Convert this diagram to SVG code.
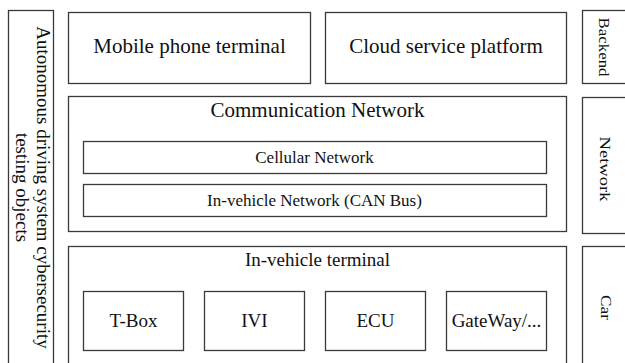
<svg xmlns="http://www.w3.org/2000/svg" width="625" height="363" viewBox="0 0 625 363">
<style>
rect{fill:#fff;stroke:#3a3a3a;stroke-width:1.3}
text{fill:#111;text-anchor:middle}
.l{font-size:21px}
.m{font-size:19px}
.s{font-size:17px}
.v{font-size:19px}
.r{font-size:15px}
</style>
<rect x="0" y="0" width="625" height="363" style="stroke:none"/>
<g font-family="'Liberation Serif', 'DejaVu Serif', serif">
<g id="side-left">
<rect x="8.5" y="10.5" width="45" height="360"/>
<text class="v" transform="translate(37,187.5) rotate(90)">Autonomous driving system cybersecurity</text>
<text class="v" transform="translate(16,187.5) rotate(90)">testing objects</text>
</g>
<g id="mobile"><rect x="68.5" y="12.5" width="242" height="71"/><text class="l" x="189.5" y="53">Mobile phone terminal</text></g>
<g id="cloud"><rect x="325.5" y="12.5" width="241" height="71"/><text class="l" x="446" y="53">Cloud service platform</text></g>
<g id="backend"><rect x="582.5" y="10.5" width="60" height="73"/><text class="r" transform="translate(599,47) rotate(90)" textLength="59" lengthAdjust="spacingAndGlyphs">Backend</text></g>
<g id="comm"><rect x="68.5" y="96.5" width="498" height="135"/><text class="l" x="317.5" y="117">Communication Network</text></g>
<g id="cellular"><rect x="83.5" y="141.5" width="463" height="32"/><text class="s" x="314.5" y="163">Cellular Network</text></g>
<g id="invnet"><rect x="83.5" y="184.5" width="463" height="32"/><text class="s" x="314.5" y="206">In-vehicle Network (CAN Bus)</text></g>
<g id="network"><rect x="582.5" y="97.5" width="60" height="136"/><text class="r" transform="translate(600,169) rotate(90)" textLength="65" lengthAdjust="spacingAndGlyphs">Network</text></g>
<g id="terminal"><rect x="68.5" y="246.5" width="498" height="130"/><text class="m" x="317.5" y="266">In-vehicle terminal</text></g>
<g id="car"><rect x="582.5" y="246.5" width="60" height="130"/><text class="r" transform="translate(601,307.5) rotate(90)" textLength="25" lengthAdjust="spacingAndGlyphs">Car</text></g>
<g id="tbox"><rect x="83.5" y="291.5" width="100" height="59"/><text class="m" x="133.5" y="327">T-Box</text></g>
<g id="ivi"><rect x="204.5" y="291.5" width="100" height="59"/><text class="m" x="254.5" y="327">IVI</text></g>
<g id="ecu"><rect x="325.5" y="291.5" width="100" height="59"/><text class="m" x="375.5" y="327">ECU</text></g>
<g id="gateway"><rect x="446.5" y="291.5" width="100" height="59"/><text class="m" x="496.5" y="327">GateWay/...</text></g>
</g>
<g id="connectors"/>
</svg>
